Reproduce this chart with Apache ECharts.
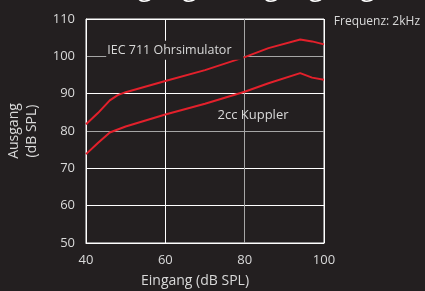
<!DOCTYPE html>
<html>
<head>
<meta charset="utf-8">
<script src="https://cdn.jsdelivr.net/npm/echarts@6/dist/echarts.min.js"></script>
<style>
  html, body { margin: 0; padding: 0; background: #231f20; }
  #chart { width: 425px; height: 291px; }
</style>
</head>
<body>
<div id="chart"></div>
<script>
// Eingangspegel (dB SPL)
var eingang = [40, 43, 46, 48, 50, 60, 70, 80, 86, 94, 97, 100];
// Ausgang, IEC 711 Ohrsimulator
var ohrsimulator = [81.8, 84.8, 88.2, 89.6, 90.4, 93.4, 96.3, 99.8, 102.2, 104.5, 104.0, 103.2];
// Ausgang, 2cc Kuppler
var kuppler = [73.8, 76.8, 79.6, 80.4, 81.2, 84.4, 87.3, 90.5, 92.8, 95.5, 94.3, 93.7];

var FONT = '"Open Sans", "Noto Sans", sans-serif';
var TXT = '#d9d9d9';
var RED = '#e3202b';

function pairs(ys) {
    return eingang.map(function (x, i) { return [x, ys[i]]; });
}

var chart = echarts.init(document.getElementById('chart'));
var option = {
    backgroundColor: '#231f20',
    animation: false,
    title: [
        {
            text: 'Eingang / Ausgang Regelung',
            left: 96,
            top: -29,
            textStyle: { color: '#ffffff', fontSize: 26, fontWeight: 'normal', fontFamily: FONT }
        },
        {
            text: 'Frequenz: 2kHz',
            right: 0,
            top: 11,
            textStyle: { color: TXT, fontSize: 12, fontWeight: 'normal', fontFamily: FONT }
        }
    ],
    grid: {
        left: 86,
        right: 101,
        top: 19,
        bottom: 48,
        outerBoundsMode: 'none',
        containLabel: false,
        show: true,
        borderColor: '#ffffff',
        borderWidth: 1
    },
    xAxis: {
        type: 'value',
        min: 40,
        max: 100,
        interval: 20,
        name: 'Eingang (dB SPL)',
        nameLocation: 'middle',
        nameGap: 31,
        nameTextStyle: { color: TXT, fontSize: 14, fontFamily: FONT, padding: [0, 20, 0, 0] },
        axisLine: { show: true, lineStyle: { color: '#ffffff', width: 1 } },
        axisTick: { show: false },
        axisLabel: { color: TXT, fontSize: 13, margin: 11, fontFamily: FONT },
        splitLine: {
            show: true,
            lineStyle: { color: ['#ffffff', '#ffffff', '#a6a6a6', '#ffffff'], width: 1 }
        }
    },
    yAxis: {
        type: 'value',
        min: 50,
        max: 110,
        interval: 10,
        name: 'Ausgang\n(dB SPL)',
        nameLocation: 'middle',
        nameGap: 45,
        nameRotate: 90,
        nameTextStyle: { color: TXT, fontSize: 14, lineHeight: 18, fontFamily: FONT },
        axisLine: { show: true, lineStyle: { color: '#ffffff', width: 1 } },
        axisTick: { show: false },
        axisLabel: { color: TXT, fontSize: 13, margin: 11, fontFamily: FONT },
        splitLine: {
            show: true,
            lineStyle: {
                color: ['#ffffff', '#ffffff', '#ffffff', '#a6a6a6', '#ffffff', '#a6a6a6', '#ffffff'],
                width: 1
            }
        }
    },
    series: [
        {
            name: 'IEC 711 Ohrsimulator',
            type: 'line',
            data: pairs(ohrsimulator),
            showSymbol: false,
            lineStyle: { color: RED, width: 2 },
            markPoint: {
                symbol: 'rect',
                symbolSize: 1,
                itemStyle: { color: 'transparent' },
                data: [{ coord: [62.4, 101.6] }],
                label: {
                    show: true,
                    position: 'inside',
                    formatter: 'IEC 711 Ohrsimulator',
                    color: TXT,
                    fontSize: 12.5,
                    fontFamily: FONT,
                    backgroundColor: '#231f20',
                    padding: [2, 12, 4, 1]
                }
            }
        },
        {
            name: '2cc Kuppler',
            type: 'line',
            data: pairs(kuppler),
            showSymbol: false,
            lineStyle: { color: RED, width: 2 },
            markPoint: {
                symbol: 'rect',
                symbolSize: 1,
                itemStyle: { color: 'transparent' },
                data: [{ coord: [82.1, 84.3] }],
                label: {
                    show: true,
                    position: 'inside',
                    formatter: '2cc Kuppler',
                    color: TXT,
                    fontSize: 13,
                    fontFamily: FONT
                }
            }
        }
    ]
};
chart.setOption(option);
</script>
</body>
</html>
